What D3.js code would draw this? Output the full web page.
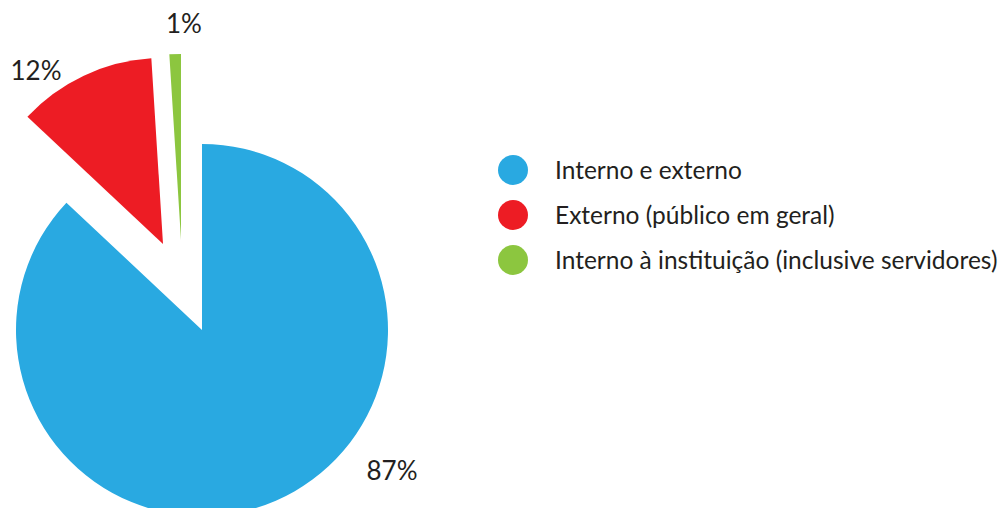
<!DOCTYPE html>
<html>
<head>
<meta charset="utf-8">
<script src="https://cdn.jsdelivr.net/npm/d3@7"></script>
<style>
  html, body { margin: 0; padding: 0; background: #fff; }
  svg { display: block; font-family: Lato, "Open Sans", sans-serif; }
</style>
</head>
<body>
<svg id="chart" width="1001" height="508"></svg>
<script>
// Público-alvo das ações
const categories = ["Interno e externo", "Externo (público em geral)", "Interno à instituição (inclusive servidores)"];
const values = [87, 12, 1];
const valueLabels = ["87%", "12%", "1%"];
const colors = ["#29a9e1", "#ed1c24", "#8cc63f"];

// Layout: pie centre, radius, per-slice displacement and label anchors
const cx = 202, cy = 330, radius = 186;
const sliceShift = [[0, 0], [-39, -86], [-21, -90]];
const labelPos = [[392, 480], [36, 80], [184, 33]];

const svg = d3.select("#chart");

const pie = d3.pie().sort(null).value(d => d)(values);
const arc = d3.arc().innerRadius(0).outerRadius(radius);

const g = svg.append("g").attr("transform", `translate(${cx},${cy})`);
g.selectAll("path.slice")
  .data(pie)
  .join("path")
  .attr("class", "slice")
  .attr("d", arc)
  .attr("fill", (d, i) => colors[i])
  .attr("transform", (d, i) => `translate(${sliceShift[i][0]},${sliceShift[i][1]})`);

svg.selectAll("text.pct")
  .data(valueLabels)
  .join("text")
  .attr("class", "pct")
  .attr("x", (d, i) => labelPos[i][0])
  .attr("y", (d, i) => labelPos[i][1])
  .attr("text-anchor", "middle")
  .attr("font-size", 26)
  .attr("fill", "#231f20")
  .text(d => d);

// Legend
const legend = svg.append("g").attr("transform", "translate(513,170)");
const rows = legend.selectAll("g")
  .data(categories)
  .join("g")
  .attr("transform", (d, i) => `translate(0,${i * 45})`);
rows.append("circle").attr("r", 15).attr("fill", (d, i) => colors[i]);
rows.append("text")
  .attr("x", 42)
  .attr("y", 9)
  .attr("font-size", 24.5)
  .attr("fill", "#231f20")
  .text(d => d);
</script>
</body>
</html>
